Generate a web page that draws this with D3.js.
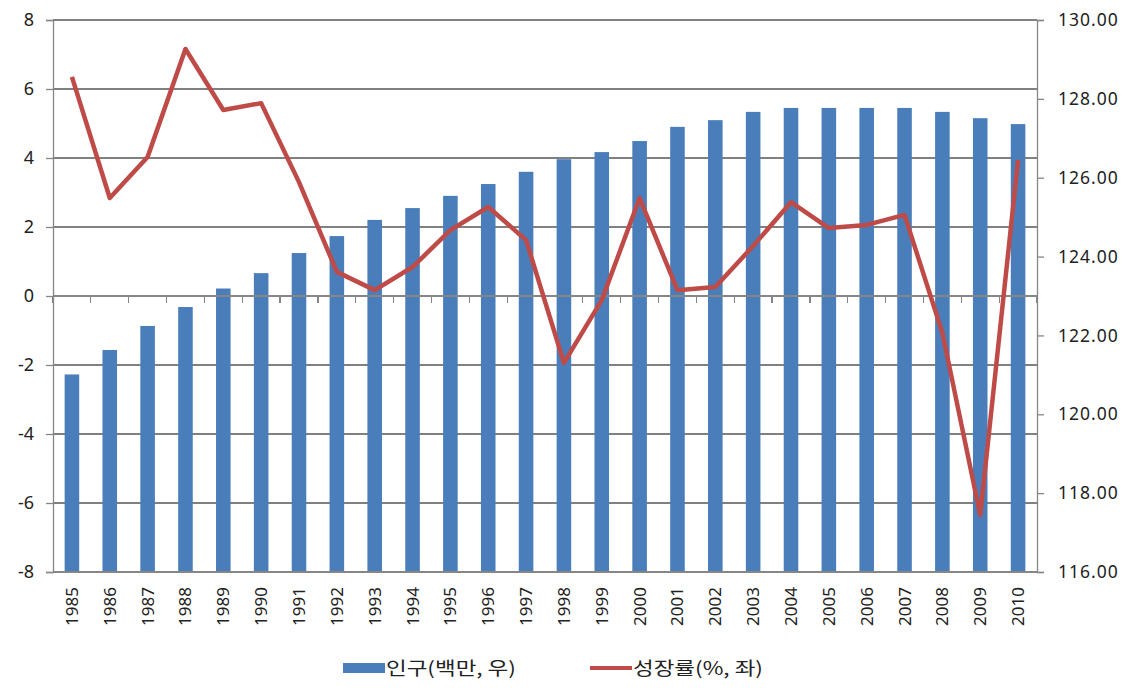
<!DOCTYPE html>
<html><head><meta charset="utf-8">
<script src="https://cdn.jsdelivr.net/npm/d3@7"></script>
<style>body{margin:0;background:#fff}svg{display:block}</style>
</head><body>
<svg id="c" width="1133" height="688"></svg>
<script>
const years = ["1985","1986","1987","1988","1989","1990","1991","1992","1993","1994","1995","1996","1997","1998","1999","2000","2001","2002","2003","2004","2005","2006","2007","2008","2009","2010"];
const population = [121.01,121.63,122.24,122.72,123.19,123.58,124.09,124.52,124.93,125.23,125.54,125.84,126.15,126.47,126.65,126.93,127.29,127.46,127.67,127.77,127.77,127.77,127.77,127.67,127.51,127.36];
const growth = [6.35,2.84,4.03,7.16,5.39,5.59,3.3,0.7,0.17,0.84,1.91,2.58,1.62,-1.94,-0.12,2.84,0.17,0.26,1.45,2.72,1.97,2.06,2.35,-1.07,-6.35,3.94];
const leftTicks = [-8,-6,-4,-2,0,2,4,6,8];
const rightTicks = [116,118,120,122,124,126,128,130];
const seriesNames = ["인구(백만, 우)","성장률(%, 좌)"];

const svg = d3.select("#c");
const L = 53, R = 1037, T = 20, B = 572;
const gridCol = "#808080", axisCol = "#868686";
const blue = "#4a7ebb", red = "#be4b48";
const font = "'Noto Sans', 'Liberation Sans', sans-serif";

const x = d3.scaleBand().domain(years).range([L, R]).padding(0);
const yL = d3.scaleLinear().domain([-8, 8]).range([B, T]);
const yR = d3.scaleLinear().domain([116, 130]).range([B, T]);

// gridlines
svg.append("g").selectAll("line").data(leftTicks.filter(d => d !== 0)).join("line")
  .attr("x1", L).attr("x2", R).attr("y1", d => yL(d)).attr("y2", d => yL(d))
  .attr("stroke", gridCol).attr("stroke-width", 1.3).attr("shape-rendering","crispEdges");

// bars
const bw = x.bandwidth() * 0.385;
svg.append("g").selectAll("rect").data(years).join("rect")
  .attr("x", d => x(d) + x.bandwidth()/2 - bw/2)
  .attr("width", bw)
  .attr("y", (d,i) => yR(population[i]))
  .attr("height", (d,i) => B - yR(population[i]))
  .attr("fill", blue);

// zero axis with ticks between categories
svg.append("line").attr("x1", L).attr("x2", R).attr("y1", yL(0)).attr("y2", yL(0))
  .attr("stroke", axisCol).attr("stroke-width", 1.3).attr("shape-rendering","crispEdges");
svg.append("g").selectAll("line").data(years.concat(["end"])).join("line")
  .attr("x1", (d,i) => i < years.length ? x(d) : R)
  .attr("x2", (d,i) => i < years.length ? x(d) : R)
  .attr("y1", yL(0)).attr("y2", yL(0) + 7)
  .attr("stroke", axisCol).attr("stroke-width", 1.3).attr("shape-rendering","crispEdges");

// left axis
const gl = svg.append("g").attr("transform", `translate(${L},0)`)
  .call(d3.axisLeft(yL).tickValues(leftTicks).tickSize(7).tickPadding(12).tickFormat(d => String(d)));
gl.select(".domain").attr("stroke", axisCol).attr("stroke-width", 1.3);
gl.selectAll(".tick line").attr("stroke", axisCol).attr("stroke-width", 1.3);
gl.selectAll("text").attr("font-family", font).attr("font-size", 18).attr("fill", "#222");

// right axis
const gr = svg.append("g").attr("transform", `translate(${R},0)`)
  .call(d3.axisRight(yR).tickValues(rightTicks).tickSize(7).tickPadding(14).tickFormat(d3.format(".2f")));
gr.select(".domain").attr("stroke", axisCol).attr("stroke-width", 1.3);
gr.selectAll(".tick line").attr("stroke", axisCol).attr("stroke-width", 1.3);
gr.selectAll("text").attr("font-family", font).attr("font-size", 17.5).attr("fill", "#222").attr("letter-spacing", 1);

// bottom line
svg.append("line").attr("x1", L).attr("x2", R).attr("y1", B).attr("y2", B)
  .attr("stroke", axisCol).attr("stroke-width", 1.3).attr("shape-rendering","crispEdges");

// year labels
svg.append("g").selectAll("text").data(years).join("text")
  .attr("transform", d => `translate(${x(d) + x.bandwidth()/2 + 6},${B + 15}) rotate(-90)`)
  .attr("text-anchor", "end")
  .attr("font-family", font).attr("font-size", 17).attr("fill", "#222")
  .text(d => d);

// growth line
const line = d3.line().x((d,i) => x(years[i]) + x.bandwidth()/2).y(d => yL(d));
svg.append("path").datum(growth).attr("d", line)
  .attr("fill", "none").attr("stroke", red).attr("stroke-width", 4.5).attr("stroke-linejoin", "round");

// legend
const lg = svg.append("g");
lg.append("rect").attr("x", 343).attr("y", 663).attr("width", 42).attr("height", 10).attr("fill", blue);
lg.append("text").attr("transform", "translate(386,675) scale(1.25,1)")
  .attr("font-family", "'Noto Sans CJK KR', sans-serif").attr("font-size", 18).attr("fill", "#222")
  .text(seriesNames[0]);
lg.append("line").attr("x1", 590).attr("x2", 632).attr("y1", 668).attr("y2", 668)
  .attr("stroke", red).attr("stroke-width", 4);
lg.append("text").attr("transform", "translate(633,675) scale(1.25,1)")
  .attr("font-family", "'Noto Sans CJK KR', sans-serif").attr("font-size", 18).attr("fill", "#222")
  .text(seriesNames[1]);
</script>
</body></html>
